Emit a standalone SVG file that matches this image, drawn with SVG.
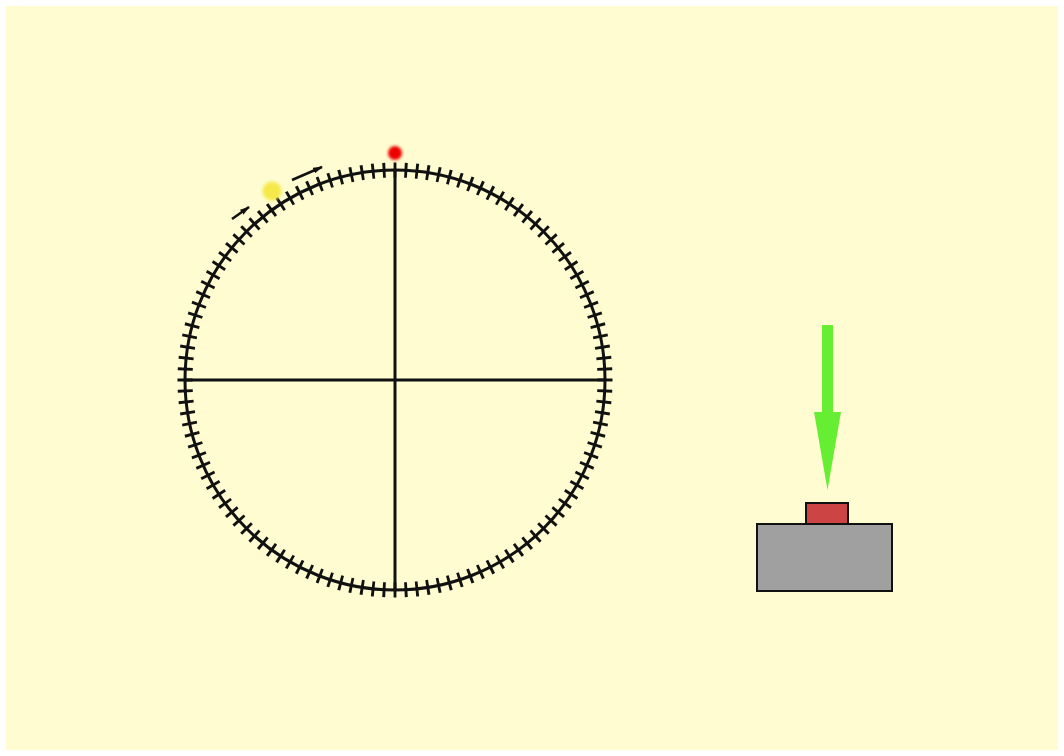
<svg xmlns="http://www.w3.org/2000/svg" width="1064" height="756" viewBox="0 0 1064 756">
<defs>
<style>
.ink{stroke:#111;fill:none;stroke-width:3;stroke-linecap:butt}
.ticks{stroke:#111;fill:none;stroke-width:15;stroke-dasharray:0.26 0.74;stroke-dashoffset:0.13}
</style>
<filter id="blur" x="-50%" y="-50%" width="200%" height="200%"><feGaussianBlur stdDeviation="1.5"/></filter>
<marker id="ah" viewBox="0 0 10 6" refX="9" refY="3" markerWidth="10" markerHeight="6" markerUnits="userSpaceOnUse" orient="auto"><path d="M0,0 L10,3 L0,6 Z" fill="#111"/></marker>
</defs>
<rect width="1064" height="756" fill="#ffffff"/>
<rect x="6" y="6" width="1052" height="744" fill="#fefcd0"/>
<g id="dial">
<circle cx="395" cy="380" r="210" class="ink"/>
<circle id="ticks" cx="395" cy="380" r="210" class="ticks" pathLength="120"/>
<line x1="185" y1="380" x2="605" y2="380" class="ink"/>
<line x1="395" y1="170" x2="395" y2="590" class="ink"/>
</g>
<g id="dots">
<circle cx="395" cy="153" r="7" fill="#ee0000" filter="url(#blur)"/>
<circle cx="272" cy="191" r="9.5" fill="#f5e94a" filter="url(#blur)"/>
</g>
<g id="connectors">
<line x1="232" y1="219" x2="249" y2="207" stroke="#111" stroke-width="2.5" marker-end="url(#ah)"/>
<line x1="292" y1="180" x2="322" y2="167" stroke="#111" stroke-width="2.5" marker-end="url(#ah)"/>
</g>
<g id="arrow">
<path d="M822,325 H833 V412 H841 L827.5,490 L814,412 H822 Z" fill="#66ee33"/>
</g>
<g id="base">
<rect x="806" y="503" width="42" height="21" fill="#cc4444" stroke="#111" stroke-width="2"/>
<rect x="757" y="524" width="135" height="67" fill="#a0a0a0" stroke="#111" stroke-width="2"/>
</g>
</svg>
